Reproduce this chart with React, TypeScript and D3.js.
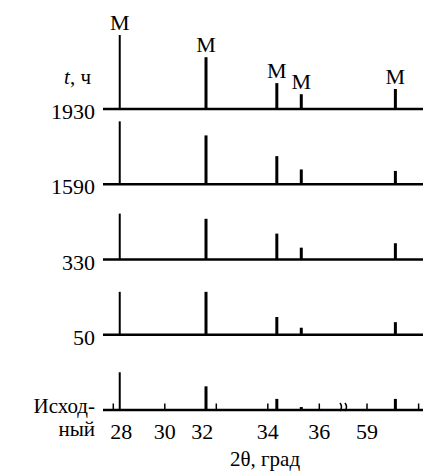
import React from "react";
import * as d3 from "d3";

// Exposure time rows (top to bottom); "\n" splits a label onto two lines
const rowLabels = ["1930", "1590", "330", "50", "Исход-\nный"];

// Diffraction peak positions, 2θ in degrees
const peakAngles = [28.25, 31.6, 34.35, 35.3, 60.1];
const peakPhase = ["M", "M", "M", "M", "M"];

// Relative peak intensities for each row (same order as peakAngles)
const int1930 = [100, 70, 35, 20, 27];
const int1590 = [85, 66, 38, 20, 18];
const int330 = [62, 55, 35, 16, 22];
const int50 = [58, 58, 24, 9.5, 17];
const intInitial = [51, 32, 15, 4, 15];
const intensities = [int1930, int1590, int330, int50, intInitial];

// Axis ticks on the 2θ scale (broken between 36 and 59)
const tickValues = [28, 30, 32, 34, 36, 59, 61];
const tickLabels = ["28", "30", "32", "34", "36", "59"];

const W = 423;
const H = 475;
const FONT = '"Liberation Serif", "Times New Roman", serif';
const txt = { fontFamily: FONT, fill: "#000" } as const;

export default function App() {
  // Broken x axis: two linear pieces meeting at the break
  const x = d3
    .scaleLinear()
    .domain([27.6, 36.92, 58.07, 61.17])
    .range([103, 343, 343, 423]);

  const rowY = d3.scalePoint<string>().domain(rowLabels).range([109, 410]);
  const h = d3.scaleLinear().domain([0, 100]).range([0, 74]);

  const breakX = x(36.92);
  const bottomY = rowY(rowLabels[rowLabels.length - 1]) as number;

  // label alignment per tick so labels clear the neighbouring peaks
  const tickAnchor: Record<string, { anchor: string; dx: number }> = {
    "28": { anchor: "start", dx: -3 },
    "32": { anchor: "end", dx: -3 },
  };

  return (
    <svg
      width={W}
      height={H}
      style={{ position: "absolute", left: 0, top: 0, background: "#fff" }}
    >
      {/* y-axis caption */}
      <text x={91} y={84} fontSize={21} textAnchor="end" style={txt}>
        <tspan fontStyle="italic">t</tspan>, ч
      </text>

      {rowLabels.map((lab, ri) => {
        const y0 = rowY(lab) as number;
        const lines = lab.split("\n");
        return (
          <g key={lab}>
            {/* baseline */}
            <line x1={103} x2={W} y1={y0} y2={y0} stroke="#000" strokeWidth={2.5} />
            {/* row label */}
            {lines.length === 1 ? (
              <text x={95} y={y0 + 10} fontSize={22} textAnchor="end" style={txt}>
                {lab}
              </text>
            ) : (
              <>
                <text x={95} y={y0 + 3} fontSize={21} textAnchor="end" style={txt}>
                  {lines[0]}
                </text>
                <text x={95} y={y0 + 26} fontSize={21} textAnchor="end" style={txt}>
                  {lines[1]}
                </text>
              </>
            )}
            {/* peaks */}
            {peakAngles.map((a, pi) => (
              <line
                key={pi}
                x1={x(a)}
                x2={x(a)}
                y1={y0}
                y2={y0 - h(intensities[ri][pi])}
                stroke="#000"
                strokeWidth={pi === 0 ? 2 : 3}
              />
            ))}
          </g>
        );
      })}

      {/* phase labels above the top row */}
      {peakAngles.map((a, pi) => (
        <text
          key={pi}
          x={x(a)}
          y={(rowY(rowLabels[0]) as number) - h(intensities[0][pi]) - 5}
          fontSize={22}
          textAnchor="middle"
          style={txt}
        >
          {peakPhase[pi]}
        </text>
      ))}

      {/* ticks on the bottom axis */}
      {tickValues.map((t) => (
        <line
          key={t}
          x1={x(t)}
          x2={x(t)}
          y1={bottomY}
          y2={bottomY - 6.5}
          stroke="#000"
          strokeWidth={1.5}
        />
      ))}

      {/* axis break mark */}
      {[-2, 3].map((d) => (
        <path
          key={d}
          d={`M${breakX + d - 1},${bottomY - 7} Q${breakX + d + 2},${bottomY - 3} ${breakX + d - 1},${bottomY + 1}`}
          fill="none"
          stroke="#000"
          strokeWidth={1.5}
        />
      ))}

      {/* tick labels */}
      {tickLabels.map((t) => {
        const cfg = tickAnchor[t] || { anchor: "middle", dx: 0 };
        return (
          <text
            key={t}
            x={x(+t) + cfg.dx}
            y={439}
            fontSize={22}
            textAnchor={cfg.anchor}
            style={txt}
          >
            {t}
          </text>
        );
      })}

      {/* x-axis title */}
      <text x={265} y={466} fontSize={21} textAnchor="middle" style={txt}>
        2θ, град
      </text>
    </svg>
  );
}
